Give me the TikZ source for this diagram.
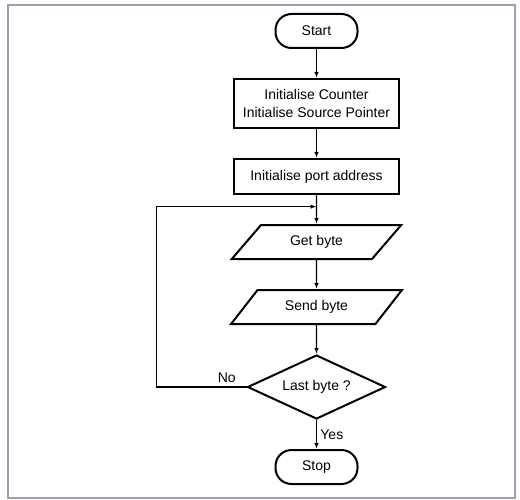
\documentclass[tikz,border=0pt]{standalone}
\usepackage{fontspec}
\setmainfont{Liberation Sans}
\usepackage{xcolor}
\usetikzlibrary{shapes,arrows.meta,positioning,calc}
\definecolor{framegray}{RGB}{150,162,176}

\begin{document}
\begin{tikzpicture}[x=1pt, y=-1pt, font=\fontsize{14}{18}\selectfont,
		terminal/.style={rectangle, rounded corners=16pt, draw, line width=2pt, minimum width=82pt, minimum height=34pt},
		process/.style={rectangle, draw, line width=2pt, minimum width=165pt, align=center},
		iobox/.style={trapezium, trapezium left angle=51.5, trapezium right angle=128.5, trapezium stretches=true, draw, line width=2pt, minimum width=171pt, minimum height=34pt},
		decision/.style={diamond, aspect=2.15, draw, line width=2pt, inner sep=0pt, minimum width=138pt, minimum height=64pt},
		flow/.style={line width=1.2pt, -{Latex[length=6pt, width=4.5pt]}},
		node distance=29pt]
				\useasboundingbox (0,0) rectangle (520,500);
				\draw[framegray, line width=1.4pt] (8,5) rectangle (515,498);
				
				\node[terminal] (start) at (316.5,31) {Start};
				\node[process, minimum height=49pt, below=of start] (init) {Initialise Counter\\Initialise Source Pointer};
				\node[process, minimum height=35pt, below=of init] (port) {Initialise port address};
				\node[iobox, below=of port] (get) {Get byte};
				\node[iobox, below=of get] (send) {Send byte};
				\node[decision, below=of send] (last) {Last byte ?};
				\node[terminal, below=of last] (stop) {Stop};
				\coordinate (back) at ($(port.south)!0.4!(get.north)$);
				
				\draw[flow] (start) -- (init);
				\draw[flow] (init) -- (port);
				\draw[flow] (port) -- (get);
				\draw[flow] (get) -- (send);
				\draw[flow] (send) -- (last);
				\draw[flow] (last) -- node[right] {Yes} (stop);
				\draw[flow] (last.west) -- node[above, pos=0.22] {No} ++(-90,0) |- (back);
			\end{tikzpicture}
\end{document}
